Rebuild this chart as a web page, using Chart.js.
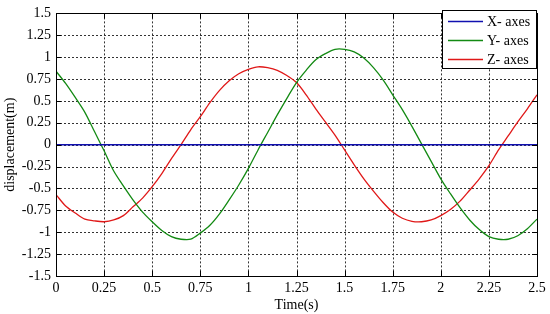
<!DOCTYPE html>
<html><head><meta charset="utf-8">
<script src="https://cdn.jsdelivr.net/npm/chart.js@4/dist/chart.umd.min.js"></script>
<style>html,body{margin:0;padding:0;background:#fff}#wrap{width:550px;height:314px;position:relative}</style>
</head><body><div id="wrap"><canvas id="c"></canvas></div>
<script>
const time = [0,0.05,0.1,0.15,0.2,0.25,0.3,0.35,0.4,0.45,0.5,0.55,0.6,0.65,0.7,0.75,0.8,0.85,0.9,0.95,1,1.05,1.1,1.15,1.2,1.25,1.3,1.35,1.4,1.45,1.5,1.55,1.6,1.65,1.7,1.75,1.8,1.85,1.9,1.95,2,2.05,2.1,2.15,2.2,2.25,2.3,2.35,2.4,2.45,2.5];
const xAxisVals = [0,0,0,0,0,0,0,0,0,0,0,0,0,0,0,0,0,0,0,0,0,0,0,0,0,0,0,0,0,0,0,0,0,0,0,0,0,0,0,0,0,0,0,0,0,0,0,0,0,0,0];
const yAxisVals = [0.84,0.70,0.54,0.37,0.15,-0.07,-0.30,-0.47,-0.63,-0.77,-0.88,-0.98,-1.05,-1.08,-1.08,-1.01,-0.92,-0.79,-0.63,-0.46,-0.27,-0.06,0.14,0.34,0.53,0.71,0.85,0.97,1.04,1.09,1.09,1.06,0.99,0.88,0.74,0.57,0.40,0.21,0.01,-0.19,-0.39,-0.56,-0.72,-0.86,-0.97,-1.05,-1.08,-1.08,-1.04,-0.96,-0.85];
const zAxisVals = [-0.57,-0.70,-0.78,-0.85,-0.87,-0.88,-0.86,-0.81,-0.71,-0.61,-0.48,-0.33,-0.16,0.00,0.17,0.32,0.48,0.62,0.73,0.81,0.86,0.89,0.88,0.85,0.79,0.71,0.57,0.41,0.26,0.11,-0.06,-0.23,-0.39,-0.53,-0.66,-0.77,-0.84,-0.875,-0.88,-0.86,-0.81,-0.74,-0.645,-0.52,-0.39,-0.24,-0.06,0.10,0.26,0.41,0.57];
const seriesNames = ["X- axes","Y- axes","Z- axes"];
const xTicks = [0,0.25,0.5,0.75,1,1.25,1.5,1.75,2,2.25,2.5];
const yTicks = [-1.5,-1.25,-1,-0.75,-0.5,-0.25,0,0.25,0.5,0.75,1,1.25,1.5];

const FONT = "'Liberation Serif','Times New Roman',serif";
const pts = arr => time.map((t,i)=>({x:t,y:arr[i]}));

const gridPlugin = {
  id:'dottedGrid',
  beforeDatasetsDraw(chart){
    const {ctx, chartArea:a, scales} = chart;
    ctx.save();
    ctx.strokeStyle='#333'; ctx.lineWidth=1; ctx.setLineDash([2,2]);
    ctx.beginPath();
    xTicks.forEach(v=>{const x=Math.round(scales.x.getPixelForValue(v))+0.5;
      ctx.moveTo(x,a.top);ctx.lineTo(x,a.bottom);});
    yTicks.forEach(v=>{const y=Math.round(scales.y.getPixelForValue(v))+0.5;
      ctx.moveTo(a.left,y);ctx.lineTo(a.right,y);});
    ctx.stroke();
    ctx.restore();
  }
};

const frame = {
  id:'frame',
  afterDraw(chart){
    const {ctx, chartArea:a, scales} = chart;
    ctx.save();
    ctx.strokeStyle='#000'; ctx.lineWidth=1;
    ctx.strokeRect(Math.round(a.left)+0.5, Math.round(a.top)+0.5, Math.round(a.right-a.left), Math.round(a.bottom-a.top));
    ctx.beginPath();
    xTicks.forEach(v=>{const x=Math.round(scales.x.getPixelForValue(v))+0.5;
      ctx.moveTo(x,a.bottom);ctx.lineTo(x,a.bottom-5);ctx.moveTo(x,a.top);ctx.lineTo(x,a.top+5);});
    yTicks.forEach(v=>{const y=Math.round(scales.y.getPixelForValue(v))+0.5;
      ctx.moveTo(a.left,y);ctx.lineTo(a.left+5,y);ctx.moveTo(a.right,y);ctx.lineTo(a.right-5,y);});
    ctx.stroke();
    // legend
    const bx=442.5, by=10.5, bw=94, bh=58;
    ctx.fillStyle='#fff'; ctx.fillRect(bx,by,bw,bh);
    ctx.strokeStyle='#000'; ctx.strokeRect(bx,by,bw,bh);
    ctx.font='14px '+FONT; ctx.textBaseline='middle'; ctx.textAlign='left';
    chart.data.datasets.forEach((ds,i)=>{
      const y = 21.5 + i*19;
      ctx.strokeStyle=ds.borderColor; ctx.lineWidth=1.5;
      ctx.beginPath(); ctx.moveTo(448,y); ctx.lineTo(483,y); ctx.stroke();
      ctx.fillStyle='#000'; ctx.fillText(ds.label,487,y+0.5);
    });
    ctx.restore();
  }
};

new Chart(document.getElementById('c'),{
  type:'line',
  data:{datasets:[
    {label:seriesNames[0],data:pts(xAxisVals),borderColor:'#1010b0',borderWidth:1.5,pointRadius:0,tension:0},
    {label:seriesNames[1],data:pts(yAxisVals),borderColor:'#138a13',borderWidth:1.3,pointRadius:0,tension:0.3},
    {label:seriesNames[2],data:pts(zAxisVals),borderColor:'#e01818',borderWidth:1.3,pointRadius:0,tension:0.3}
  ]},
  options:{
    responsive:true,maintainAspectRatio:false,animation:false,
    layout:{padding:{left:2,right:13,top:9,bottom:0}},
    plugins:{legend:{display:false},tooltip:{enabled:false}},
    scales:{
      x:{type:'linear',min:0,max:2.5,
        afterBuildTicks:s=>{s.ticks=xTicks.map(v=>({value:v}));},
        afterFit:s=>{s.height=38;},
        grid:{display:false,drawTicks:false},
        border:{display:false},
        ticks:{color:'#000',font:{family:FONT,size:14},padding:4,maxRotation:0,autoSkip:false,callback:v=>String(v)},
        title:{display:true,text:'Time(s)',color:'#000',font:{family:FONT,size:14},padding:{top:-2,bottom:0}}
      },
      y:{type:'linear',min:-1.5,max:1.5,
        afterBuildTicks:s=>{s.ticks=yTicks.map(v=>({value:v}));},
        afterFit:s=>{s.width=54;},
        grid:{display:false,drawTicks:false},
        border:{display:false},
        ticks:{color:'#000',font:{family:FONT,size:14},padding:5,autoSkip:false,callback:v=>String(v)},
        title:{display:true,text:'displacement(m)',color:'#000',font:{family:FONT,size:14},padding:{top:0,bottom:0}}
      }
    }
  },
  plugins:[gridPlugin, frame]
});
</script></body></html>
